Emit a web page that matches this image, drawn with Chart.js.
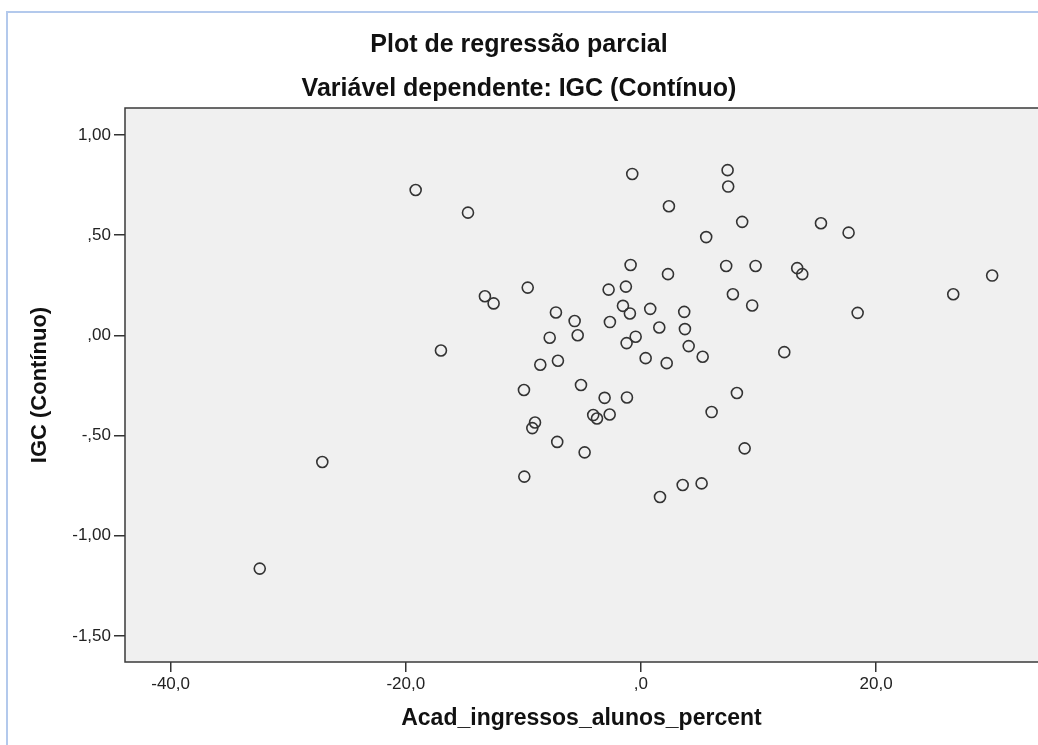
<!DOCTYPE html>
<html lang="pt">
<head>
<meta charset="UTF-8">
<title>Plot de regressão parcial</title>
<script src="https://cdn.jsdelivr.net/npm/chart.js"></script>
<style>
  html, body { margin: 0; padding: 0; background: #fff; overflow: hidden; }
  #frame { position: absolute; left: 6px; top: 11px; width: 1040px; height: 740px;
           border-left: 2px solid #b3c9ec; border-top: 2px solid #b3c9ec; }
  #chart { position: absolute; left: 0; top: 0; }
</style>
</head>
<body>
<div id="frame"></div>
<canvas id="chart" width="1045" height="745"></canvas>
<script>
// values (x = Acad_ingressos_alunos_percent residual, y = IGC residual)
const xValues = [
  -19.16, -14.71, -0.74, 7.37, 7.42, 2.38, 8.61, 5.55, -0.88, 2.30,
  7.25, 9.75, 7.82, 9.46, -13.27, -12.53, -9.63, -2.75, -1.28, -1.53,
  -0.94, 0.79, 3.68, -7.23, -5.64, -2.64, 1.56, 3.74, -7.76, -5.38,
  -1.22, -0.45, -17.01, 4.06, 5.25, 12.19, -8.56, -7.06, 0.40, 2.19,
  -9.95, -5.10, -3.09, -1.19, 8.16, -4.06, -3.74, -2.66, 6.01, -9.01,
  -9.24, -7.12, -4.79, 8.82, -9.92, 3.55, 5.16, 1.62, 15.31, 17.66,
  13.29, 13.72, 29.87, 26.56, 18.43, -27.10, -32.42
];
const yValues = [
  0.725, 0.612, 0.805, 0.824, 0.742, 0.644, 0.566, 0.490, 0.351, 0.305,
  0.346, 0.346, 0.205, 0.149, 0.195, 0.159, 0.238, 0.228, 0.243, 0.147,
  0.109, 0.132, 0.117, 0.114, 0.071, 0.066, 0.039, 0.031, -0.012, 0.000,
  -0.039, -0.007, -0.076, -0.054, -0.107, -0.084, -0.147, -0.127, -0.114, -0.139,
  -0.273, -0.248, -0.312, -0.310, -0.288, -0.398, -0.415, -0.395, -0.383, -0.435,
  -0.463, -0.532, -0.584, -0.564, -0.705, -0.747, -0.739, -0.807, 0.559, 0.512,
  0.335, 0.305, 0.298, 0.205, 0.112, -0.632, -1.164
];

const xTickValues = [-40, -20, 0, 20];
const xTickLabels = ['-40,0', '-20,0', ',0', '20,0'];
const yTickValues = [1, 0.5, 0, -0.5, -1, -1.5];
const yTickLabels = ['1,00', ',50', ',00', '-,50', '-1,00', '-1,50'];

const titleLines = ['Plot de regressão parcial', 'Variável dependente: IGC (Contínuo)'];
const xTitle = 'Acad_ingressos_alunos_percent';
const yTitle = 'IGC (Contínuo)';

const points = xValues.map((x, i) => ({ x: x, y: yValues[i] }));
const FONT = "'Liberation Sans', Arial, sans-serif";
const VIEW_W = 1038; // visible page width; canvas runs a little past it

// grey plot background, dark frame, and the two title lines
const plotFrame = {
  id: 'plotFrame',
  beforeDatasetsDraw(chart) {
    const { ctx, chartArea: a } = chart;
    ctx.save();
    ctx.fillStyle = '#f0f0f0';
    ctx.fillRect(a.left, a.top, a.right - a.left, a.bottom - a.top);
    ctx.restore();
  },
  afterDraw(chart) {
    const { ctx, chartArea: a } = chart;
    ctx.save();
    ctx.strokeStyle = '#3a3a3a';
    ctx.lineWidth = 1.5;
    ctx.strokeRect(a.left, a.top, a.right - a.left + 4, a.bottom - a.top);
    ctx.fillStyle = '#111';
    ctx.font = 'bold 25px ' + FONT;
    ctx.textAlign = 'center';
    ctx.textBaseline = 'middle';
    titleLines.forEach((t, i) => ctx.fillText(t, VIEW_W / 2, 45 + i * 44.5));
    ctx.restore();
  }
};

new Chart(document.getElementById('chart'), {
  type: 'scatter',
  data: {
    datasets: [{
      data: points,
      pointStyle: 'circle',
      pointRadius: 5.5,
      pointHoverRadius: 5.5,
      pointBorderWidth: 1.6,
      borderColor: '#333',
      backgroundColor: 'rgba(0,0,0,0)'
    }]
  },
  options: {
    responsive: false,
    animation: false,
    layout: { padding: { top: 108, left: 0, right: 0, bottom: 0 } },
    plugins: { legend: { display: false }, tooltip: { enabled: false } },
    scales: {
      x: {
        type: 'linear',
        min: -43.88, max: 33.76,
        afterFit: s => { s.height = 83; },
        afterBuildTicks: s => { s.ticks = xTickValues.map(v => ({ value: v })); },
        ticks: {
          callback: (v) => xTickLabels[xTickValues.indexOf(v)],
          color: '#222', font: { family: FONT, size: 17 }, padding: 2, maxRotation: 0
        },
        grid: { drawOnChartArea: false, tickLength: 10, color: '#333', lineWidth: 1.5 },
        border: { display: false },
        title: {
          display: true, text: xTitle, color: '#111',
          font: { family: FONT, size: 23, weight: 'bold' },
          padding: { top: 0, bottom: 13 }
        }
      },
      y: {
        type: 'linear',
        min: -1.630, max: 1.134,
        afterFit: s => { s.width = 125; },
        afterBuildTicks: s => { s.ticks = yTickValues.map(v => ({ value: v })); },
        ticks: {
          callback: (v) => yTickLabels[yTickValues.indexOf(v)],
          color: '#222', font: { family: FONT, size: 17 }, padding: 3
        },
        grid: { drawOnChartArea: false, tickLength: 11, color: '#333', lineWidth: 1.5 },
        border: { display: false },
        title: {
          display: true, text: yTitle, color: '#111',
          font: { family: FONT, size: 22, weight: 'bold' },
          padding: { top: 27, bottom: 0 }
        }
      }
    }
  },
  plugins: [plotFrame]
});
</script>
</body>
</html>
